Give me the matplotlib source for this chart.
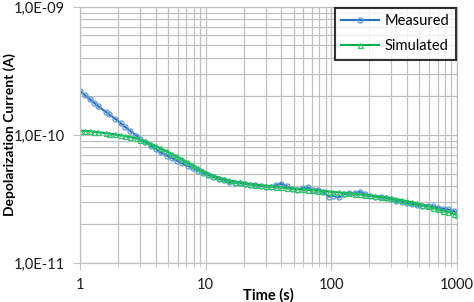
import matplotlib
matplotlib.use("Agg")
import matplotlib.pyplot as plt
from matplotlib.ticker import LogLocator, FixedLocator, NullFormatter

plt.rcParams["font.family"] = ["Lato", "DejaVu Sans"]

# time samples (s)
time_s = [1.0, 1.1, 1.2, 1.3, 1.4, 1.6, 1.7, 1.9, 2.1, 2.3, 2.5, 2.8, 3.0, 3.3,
          3.7, 4.0, 4.4, 4.9, 5.4, 5.9, 6.5, 7.2, 7.9, 8.7, 9.5, 10.5, 11.5,
          12.7, 14, 15.4, 17, 18.7, 20.5, 22.6, 24.9, 27.4, 30, 33, 36.5, 40,
          44, 48.5, 53.5, 59, 65, 71, 78, 86, 95, 104, 115, 126, 139, 153,
          168, 185, 204, 224, 247, 272, 299, 329, 362, 398, 438, 482, 530,
          584, 642, 706, 777, 855, 940, 1000]

# currents in units of 1e-11 A
measured = [22.0, 20.4, 19.0, 17.8, 16.7, 15.2, 14.5, 13.4, 12.4, 11.5, 10.8,
            9.9, 9.3, 8.8, 8.2, 7.8, 7.3, 6.9, 6.6, 6.3, 6.0, 5.75, 5.5, 5.25,
            5.05, 4.85, 4.7, 4.55, 4.42, 4.3, 4.25, 4.2, 4.15, 4.1, 4.05, 4.0,
            3.95, 3.95, 4.05, 4.15, 4.0, 3.8, 3.75, 3.85, 3.9, 3.7, 3.75, 3.6,
            3.3, 3.35, 3.25, 3.45, 3.5, 3.5, 3.6, 3.45, 3.35, 3.3, 3.25, 3.2,
            3.15, 3.05, 3.0, 2.95, 2.9, 2.85, 2.8, 2.8, 2.78, 2.7, 2.65, 2.62,
            2.55, 2.46]
simulated = [10.8, 10.75, 10.7, 10.6, 10.5, 10.35, 10.25, 10.1, 9.95, 9.8,
             9.65, 9.45, 9.2, 8.9, 8.5, 8.2, 7.85, 7.45, 7.1, 6.8, 6.45, 6.1,
             5.8, 5.5, 5.25, 5.0, 4.82, 4.65, 4.52, 4.42, 4.33, 4.26, 4.2,
             4.15, 4.1, 4.05, 4.02, 3.98, 3.94, 3.9, 3.87, 3.83, 3.8, 3.77,
             3.74, 3.71, 3.68, 3.65, 3.62, 3.59, 3.56, 3.53, 3.5, 3.47, 3.44,
             3.41, 3.37, 3.33, 3.29, 3.25, 3.2, 3.15, 3.1, 3.04, 2.98, 2.92,
             2.85, 2.78, 2.71, 2.64, 2.57, 2.5, 2.42, 2.37]

y_ticks = [1e-11, 1e-10, 1e-9]
y_labels = ["1,0E-11", "1,0E-10", "1,0E-09"]
x_ticks = [1, 10, 100, 1000]
x_labels = ["1", "10", "100", "1000"]

GRID = "#c0c0c0"

fig = plt.figure(figsize=(4.74, 3.02), dpi=100)
ax = fig.add_axes([0.1688, 0.129, 0.7954, 0.848])

ax.plot(time_s, [v * 1e-11 for v in measured], color="#2a6ebb", lw=1.5,
        marker="o", ms=3.6, mfc="none", mec="#5b9bd5", mew=0.9, label="Measured")
ax.plot(time_s, [v * 1e-11 for v in simulated], color="#00b050", lw=1.5,
        marker="^", ms=3.6, mfc="none", mec="#2ec46a", mew=0.9, label="Simulated")

ax.set_xscale("log")
ax.set_yscale("log")
ax.set_xlim(1, 1000)
ax.set_ylim(1e-11, 1e-9)

ax.xaxis.set_major_locator(FixedLocator(x_ticks))
ax.set_xticklabels(x_labels)
ax.xaxis.set_minor_locator(LogLocator(base=10, subs=range(2, 10)))
ax.xaxis.set_minor_formatter(NullFormatter())
ax.yaxis.set_major_locator(FixedLocator(y_ticks))
ax.set_yticklabels(y_labels)
ax.yaxis.set_minor_locator(LogLocator(base=10, subs=range(2, 10)))
ax.yaxis.set_minor_formatter(NullFormatter())

ax.grid(True, which="both", color=GRID, lw=0.9)
ax.set_axisbelow(True)
for s in ax.spines.values():
    s.set_color(GRID)
    s.set_linewidth(0.9)
ax.tick_params(which="major", length=5, color=GRID, labelsize=10.5,
               labelcolor="#1a1a1a", pad=6)
ax.tick_params(axis="x", which="minor", length=3, color=GRID)
ax.tick_params(axis="y", which="minor", length=0)

ax.set_xlabel("Time (s)", fontsize=10.5, fontweight="bold", labelpad=-3)
fig.text(0.021, 0.556, "Depolarization Current (A)", fontsize=10,
         fontweight="bold", rotation=90, ha="center", va="center")

leg = ax.legend(loc="upper right", fontsize=10.5, frameon=True, fancybox=False,
                borderaxespad=0.05, handlelength=2.6, borderpad=0.45,
                labelspacing=0.75, handletextpad=0.4, markerscale=1.0)
leg.get_frame().set_edgecolor("black")
leg.get_frame().set_linewidth(1.5)

fig.savefig("out.png", dpi=100)
